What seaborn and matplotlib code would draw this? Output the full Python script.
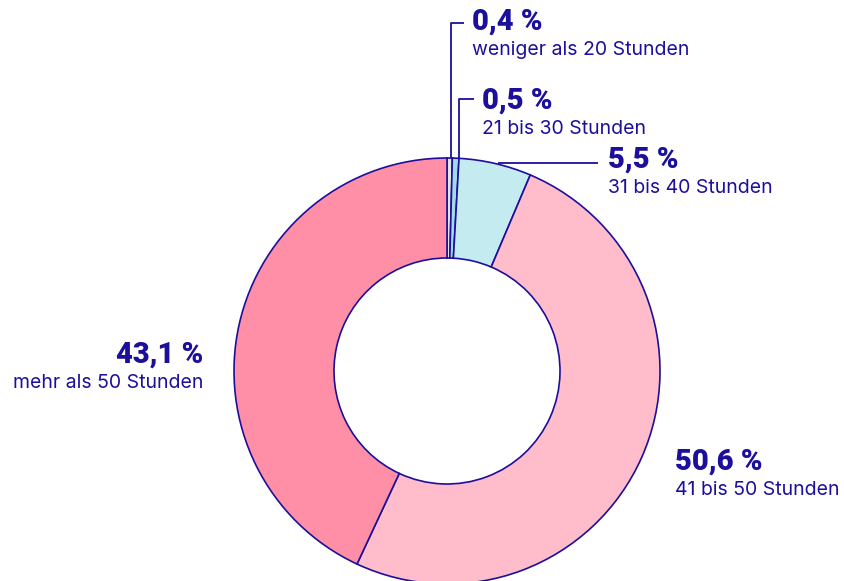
import numpy as np
import seaborn as sns
import matplotlib.pyplot as plt

# share of weekly working hours
categories = ["weniger als 20 Stunden", "21 bis 30 Stunden", "31 bis 40 Stunden",
              "41 bis 50 Stunden", "mehr als 50 Stunden"]
values = [0.4, 0.5, 5.5, 50.6, 43.1]
value_labels = ["0,4 %", "0,5 %", "5,5 %", "50,6 %", "43,1 %"]
colors = ["#e4e4e6", "#9fdce8", "#c4ecf0", "#ffbccb", "#ff8fa6"]

NAVY = "#1c0f9c"

sns.set_theme(style="white")
plt.rcParams["font.family"] = ["Roboto", "DejaVu Sans"]

fig = plt.figure(figsize=(8.44, 5.81), dpi=100)
ax = fig.add_axes([0, 0, 1, 1])

cx, cy, R = 447, 210, 213
wedges, _ = ax.pie(values, colors=colors, startangle=90, counterclock=False,
                   center=(cx, cy), radius=R, frame=True,
                   wedgeprops=dict(width=100, edgecolor=NAVY, linewidth=1.2))
ax.set_xlim(0, 844)
ax.set_ylim(0, 581)
ax.set_aspect("equal")
ax.axis("off")


def mid_point(i):
    w = wedges[i]
    ang = np.deg2rad((w.theta1 + w.theta2) / 2)
    return cx + R * np.cos(ang), cy + R * np.sin(ang)


def Y(py):
    # pixel row (from top) -> data y
    return 581 - py


def label(x, py, pct, txt, ha="left"):
    ax.text(x, Y(py), pct, ha=ha, va="center", fontsize=21, fontweight="heavy", color=NAVY)
    ax.text(x, Y(py + 28), txt, ha=ha, va="center", fontsize=14, color=NAVY,
            family=["Inter", "DejaVu Sans"])


# leader lines
x0, y0 = mid_point(0)
ax.plot([x0 + 1, x0 + 1, 464], [y0, Y(23), Y(23)], color=NAVY, lw=1.3, solid_capstyle="butt")
x1, y1 = mid_point(1)
ax.plot([x1 + 3, x1 + 3, 474], [y1, Y(99), Y(99)], color=NAVY, lw=1.3, solid_capstyle="butt")
x2, y2 = mid_point(2)
ax.plot([x2 + 3, 598], [y2 + 1, y2 + 1], color=NAVY, lw=1.3, solid_capstyle="butt")

label(472, 22, value_labels[0], categories[0])
label(482, 101, value_labels[1], categories[1])
label(608, 160, value_labels[2], categories[2])
label(675, 462, value_labels[3], categories[3])
label(203, 355, value_labels[4], categories[4], ha="right")

fig.savefig("out.png", dpi=100)
